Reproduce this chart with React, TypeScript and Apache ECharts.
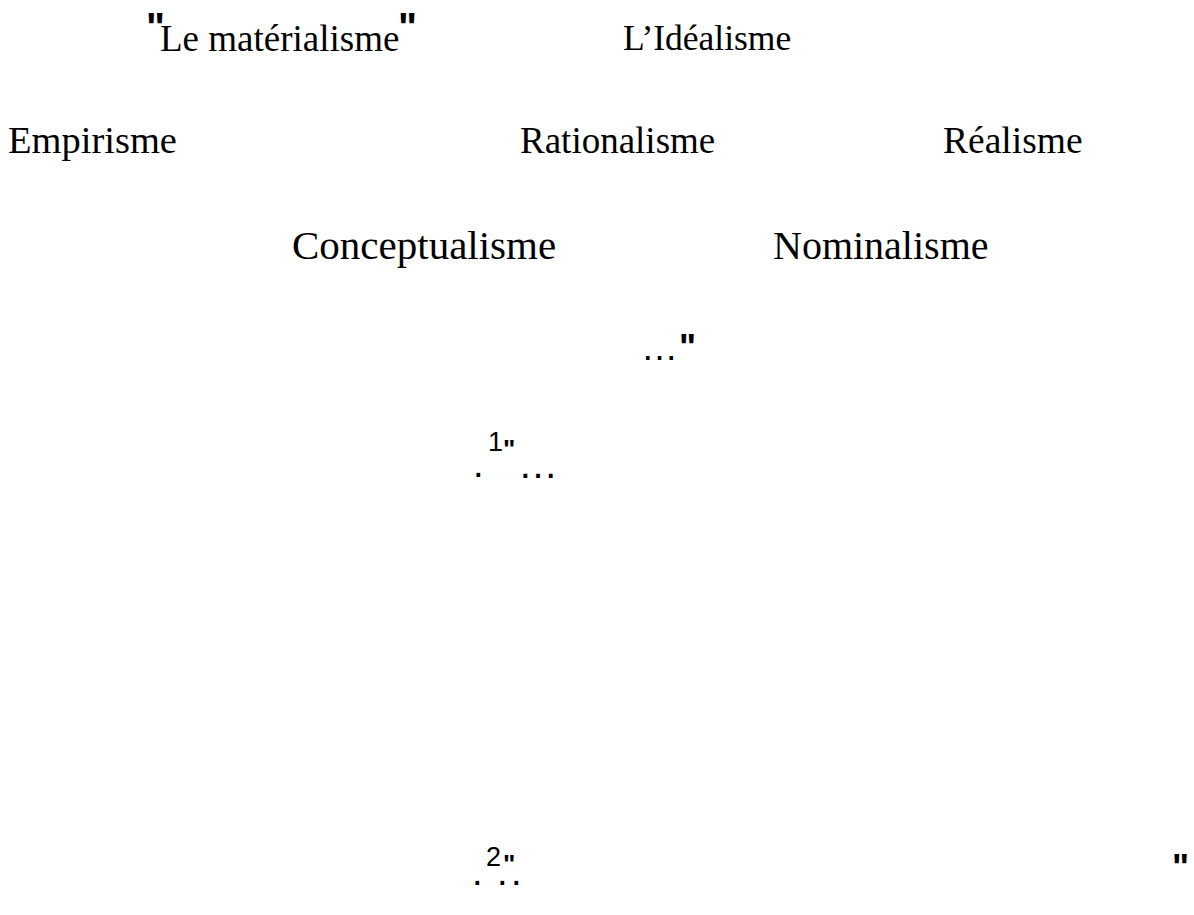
import React, { useEffect, useRef } from "react";
import * as echarts from "echarts";

// Text content of the figure
const titleLabels = ["Le matérialisme", "L\u2019Idéalisme"];
const middleLabels = ["Empirisme", "Rationalisme", "Réalisme"];
const lowerLabels = ["Conceptualisme", "Nominalisme"];
const quoteMark = "\"";
const ellipsis = "\u2026";
const noteNumbers = ["1", "2"];

const SERIF = "'Liberation Serif', 'Times New Roman', serif";
const SANS = "'Liberation Sans', 'DejaVu Sans', sans-serif";

export default function App() {
  const ref = useRef<HTMLDivElement>(null);
  useEffect(() => {
    if (!ref.current) return;
    const chart = echarts.init(ref.current, null, { renderer: "svg" });
    const serif = (text: string, x: number, y: number, size: number) => ({
      type: "text",
      x,
      y,
      style: { text, font: `${size}px ${SERIF}`, fill: "#000", align: "left", verticalAlign: "middle" },
    });
    const sans = (text: string, x: number, y: number, size: number, weight = "normal") => ({
      type: "text",
      x,
      y,
      style: { text, font: `${weight} ${size}px ${SANS}`, fill: "#000", align: "left", verticalAlign: "middle" },
    });
    const elements: any[] = [
      sans(quoteMark, 146, 27, 40, "bold"),
      serif(titleLabels[0], 160, 38, 37),
      sans(quoteMark, 398, 27, 40, "bold"),
      serif(titleLabels[1], 623, 38, 35.5),
      serif(middleLabels[0], 8, 140, 38.5),
      serif(middleLabels[1], 520, 140, 37),
      serif(middleLabels[2], 943, 140, 37.5),
      serif(lowerLabels[0], 292, 245, 41),
      serif(lowerLabels[1], 773, 245, 40),
      sans(ellipsis, 641, 347, 37),
      sans(quoteMark, 679, 347, 36, "bold"),
      sans(".", 473, 464, 38),
      sans(noteNumbers[0], 488, 442, 27),
      sans(quoteMark, 503, 449, 26, "bold"),
      sans(ellipsis, 518, 464, 40),
      sans(".", 472, 872, 38),
      sans(noteNumbers[1], 486, 857, 27),
      sans(quoteMark, 503, 864, 26, "bold"),
      sans(".", 497, 872, 38),
      sans(".", 511, 872, 38),
      sans(quoteMark, 1172, 867, 36, "bold"),
    ];
    chart.setOption({
      animation: false,
      backgroundColor: "#fff",
      graphic: { elements },
    });
    return () => chart.dispose();
  }, []);
  return (
    <div
      ref={ref}
      style={{ position: "absolute", left: 0, top: 0, width: 1194, height: 915, background: "#fff" }}
    />
  );
}
